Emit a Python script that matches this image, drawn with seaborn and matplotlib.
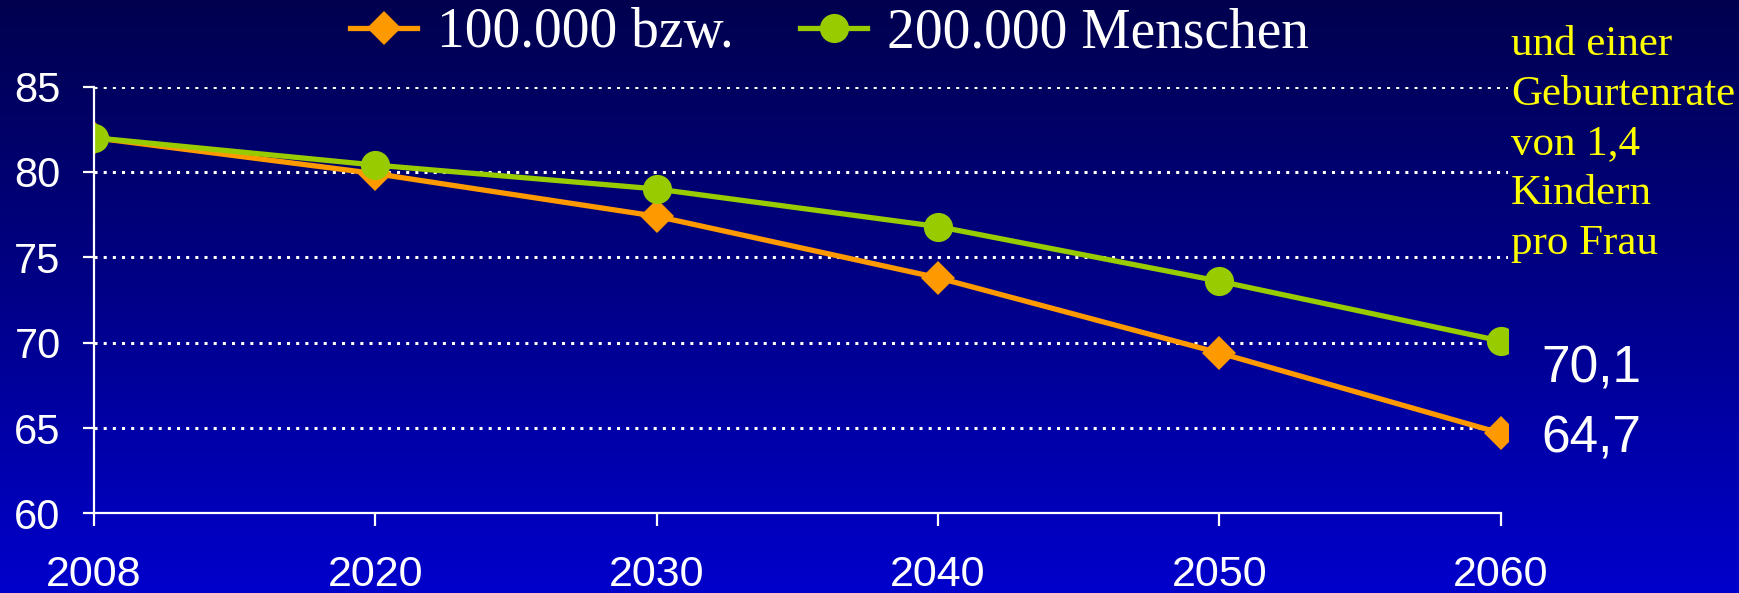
import numpy as np
import pandas as pd
import seaborn as sns
import matplotlib.pyplot as plt
from matplotlib.colors import LinearSegmentedColormap
from matplotlib.lines import Line2D

# data
years = ["2008", "2020", "2030", "2040", "2050", "2060"]
series_names = ["100.000 bzw.", "200.000 Menschen"]
pop_100k = [82.0, 79.9, 77.4, 73.8, 69.4, 64.7]
pop_200k = [82.0, 80.4, 79.0, 76.8, 73.6, 70.1]
y_ticks = [60, 65, 70, 75, 80, 85]
side_note = "und einer\nGeburtenrate\nvon 1,4\nKindern\npro Frau"

df = pd.DataFrame({
    "Jahr": years * 2,
    "Mio": pop_100k + pop_200k,
    "Variante": [series_names[0]] * len(years) + [series_names[1]] * len(years),
})

orange = "#FF9900"
green = "#99CC00"
white = "white"
sans = ["Liberation Sans", "DejaVu Sans"]
serif = ["Liberation Serif", "DejaVu Serif"]
ms_d, ms_o = 17, 21

fig = plt.figure(figsize=(17.39, 5.93), dpi=100)

# gradient background
bg = fig.add_axes([0, 0, 1, 1], zorder=-10)
grad = np.linspace(0, 1, 256).reshape(-1, 1)
cmap = LinearSegmentedColormap.from_list("bg", ["#00004F", "#000088", "#0000CC"])
bg.imshow(grad, aspect="auto", cmap=cmap, extent=[0, 1, 0, 1], origin="upper")
bg.axis("off")

ax = fig.add_axes([0.0541, 0.1341, 0.8131, 0.72])
ax.set_facecolor("none")

# one call per series so the two marker sizes can differ
for name, col, mk, ms in [(series_names[0], orange, "D", ms_d), (series_names[1], green, "o", ms_o)]:
    sub = df[df["Variante"] == name]
    sns.lineplot(data=sub, x="Jahr", y="Mio", color=col, marker=mk, markersize=ms,
                 markeredgewidth=0, linewidth=3.8, ax=ax, legend=False, sort=False)

ax.set_xlim(0, 5.026)
ax.set_ylim(60, 85)
ax.set_yticks(y_ticks)
ax.set_xlabel("")
ax.set_ylabel("")

for s in ["top", "right"]:
    ax.spines[s].set_visible(False)
for s in ["left", "bottom"]:
    ax.spines[s].set_color(white)
    ax.spines[s].set_linewidth(1.6)
ax.spines["bottom"].set_bounds(0, 5)

for y in y_ticks[1:]:
    ax.axhline(y, color=white, linewidth=2.2, linestyle=(0, (1, 2.0)), zorder=0)

ax.tick_params(axis="y", colors=white, length=8, width=1.6, pad=16)
ax.tick_params(axis="x", colors=white, length=9, width=1.6, pad=21)
for lab in ax.get_yticklabels():
    lab.set_family(sans)
    lab.set_fontsize(30)
for lab in ax.get_xticklabels():
    lab.set_family(sans)
    lab.set_fontsize(31)

# end values
for vals, dy in [(pop_200k, -20), (pop_100k, -4)]:
    ax.annotate(f"{vals[-1]:.1f}".replace(".", ","), xy=(5, vals[-1]),
                xytext=(29, dy), textcoords="offset points",
                ha="left", va="center", color=white, fontsize=37, family=sans)

# legend
handles = [
    Line2D([], [], color=orange, linewidth=3.8, marker="D", markersize=ms_d, markeredgewidth=0),
    Line2D([], [], color=green, linewidth=3.8, marker="o", markersize=ms_o, markeredgewidth=0),
]
leg = fig.legend(handles, series_names, loc="center left", bbox_to_anchor=(0.2015, 0.944),
                 ncol=2, frameon=False, handlelength=1.2, handletextpad=0.36,
                 columnspacing=1.2, borderpad=0, borderaxespad=0,
                 prop={"family": serif, "size": 40})
for t in leg.get_texts():
    t.set_color(white)

fig.text(0.8689, 0.757, side_note, color="yellow", fontsize=31, family=serif,
         ha="left", va="center", linespacing=1.38)

plt.savefig("out.png", dpi=100)
